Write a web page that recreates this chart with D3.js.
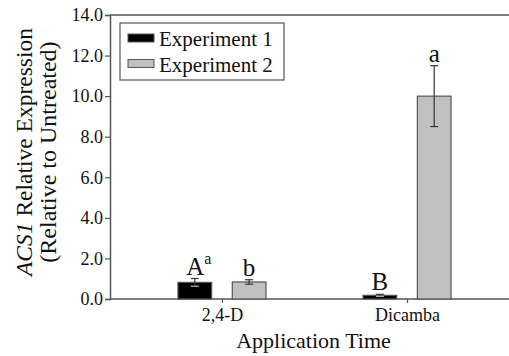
<!DOCTYPE html>
<html>
<head>
<meta charset="utf-8">
<script src="https://cdn.jsdelivr.net/npm/d3@7"></script>
</head>
<body style="margin:0; background:white">
<div id="container"></div>
<script>
let w = 509;
let h = 356;

// data
let categories = ["2,4-D", "Dicamba"];
let series = ["Experiment 1", "Experiment 2"];
let exp1Values = [0.82, 0.18];
let exp2Values = [0.84, 10.0];
let exp1Errors = [0.19, 0.05];
let exp2Errors = [0.11, 1.5];
let exp1Letters = ["A", "B"];
let exp2Letters = ["b", "a"];
let exp1Sup = ["a", ""];
let yTicks = [0, 2, 4, 6, 8, 10, 12, 14];

let colors = ["#000000", "#c0c0c0"];
let axisColor = "#555";
let serif = "'Liberation Serif'";

let viz = d3.select("#container")
  .append("svg")
    .attr("width", w)
    .attr("height", h)
    .style("display", "block")
    .style("background-color", "white")
;

let plotLeft = 110, plotRight = 519, plotTop = 15, plotBottom = 299;

let xScale = d3.scalePoint().domain(categories).range([plotLeft, plotRight]).padding(0.605);
let subScale = d3.scaleBand().domain(series).range([-44, 44]).paddingInner(0.38);
let yScale = d3.scaleLinear().domain([0, 14]).range([plotBottom, plotTop]);

// flatten into rows for drawing
let rows = [];
categories.forEach(function(c, i){
  rows.push({cat: c, s: series[0], v: exp1Values[i], e: exp1Errors[i], letter: exp1Letters[i], sup: exp1Sup[i], color: colors[0]});
  rows.push({cat: c, s: series[1], v: exp2Values[i], e: exp2Errors[i], letter: exp2Letters[i], sup: "", color: colors[1]});
});

// top frame line
viz.append("line")
  .attr("x1", plotLeft).attr("x2", w)
  .attr("y1", plotTop).attr("y2", plotTop)
  .attr("stroke", axisColor).attr("stroke-width", 1.5);

// y axis
let yAxis = viz.append("g")
  .attr("transform", "translate(" + plotLeft + ",0)")
  .call(d3.axisLeft(yScale).tickValues(yTicks).tickFormat(d3.format(".1f")).tickSize(5).tickPadding(2));
yAxis.attr("font-family", "Liberation Serif");
yAxis.select(".domain").attr("stroke", axisColor).attr("stroke-width", 1.5);
yAxis.selectAll(".tick line").attr("stroke", axisColor).attr("stroke-width", 1.2);
yAxis.selectAll(".tick text")
  .style("font-size", "18px");

// x axis
let xAxis = viz.append("g")
  .attr("transform", "translate(0," + plotBottom + ")")
  .call(d3.axisBottom(xScale).tickSize(4).tickPadding(5).tickSizeOuter(0));
xAxis.attr("font-family", "Liberation Serif");
xAxis.select(".domain").attr("d", "M" + plotLeft + ",0H" + w).attr("stroke", axisColor).attr("stroke-width", 1.5);
xAxis.selectAll(".tick line").attr("stroke", axisColor).attr("stroke-width", 1.2);
xAxis.selectAll(".tick text")
  .style("font-size", "18px");

// bars
let groups = viz.selectAll(".bargroup").data(rows).enter()
  .append("g")
    .classed("bargroup", true)
    .attr("transform", function(d){ return "translate(" + (xScale(d.cat) + subScale(d.s)) + ",0)"; })
;

groups.append("rect")
  .attr("x", 0)
  .attr("y", function(d){ return yScale(d.v); })
  .attr("width", subScale.bandwidth())
  .attr("height", function(d){ return yScale(0) - yScale(d.v); })
  .attr("fill", function(d){ return d.color; })
  .attr("stroke", axisColor)
  .attr("stroke-width", 1.2)
;

// error bars
let bw = subScale.bandwidth();
function errColor(d){ return d.color == "#000000" ? "#bbb" : "#333"; }
groups.append("line")
  .attr("x1", bw/2).attr("x2", bw/2)
  .attr("y1", function(d){ return yScale(d.v + d.e); })
  .attr("y2", function(d){ return yScale(d.v - d.e); })
  .attr("stroke", "#333").attr("stroke-width", 1.2);
groups.append("line")
  .attr("x1", bw/2 - 4).attr("x2", bw/2 + 4)
  .attr("y1", function(d){ return yScale(d.v + d.e); })
  .attr("y2", function(d){ return yScale(d.v + d.e); })
  .attr("stroke", "#333").attr("stroke-width", 1.2);
groups.append("line")
  .attr("x1", bw/2 - 4).attr("x2", bw/2 + 4)
  .attr("y1", function(d){ return yScale(d.v - d.e); })
  .attr("y2", function(d){ return yScale(d.v - d.e); })
  .attr("stroke", function(d){ return d.v > 1 ? "#333" : errColor(d); }).attr("stroke-width", 1.2);

// significance letters
let letters = groups.append("text")
  .attr("x", bw/2)
  .attr("y", function(d){ return yScale(d.v + d.e) - 4; })
  .attr("text-anchor", "middle")
  .style("font-size", "25px")
  .text(function(d){ return d.letter; })
;
letters.filter(function(d){ return d.sup != ""; })
  .append("tspan")
    .attr("dy", -11)
    .style("font-size", "16px")
    .text(function(d){ return d.sup; })
;
// keep "A" centred over the bar even with the superscript
letters.filter(function(d){ return d.sup != ""; }).attr("x", bw/2 + 4);

// legend
let legend = viz.append("g");
legend.append("rect")
  .attr("x", 120).attr("y", 23)
  .attr("width", 164).attr("height", 57)
  .attr("fill", "white").attr("stroke", axisColor).attr("stroke-width", 1.2);
let items = legend.selectAll(".item").data(series).enter()
  .append("g")
    .classed("item", true)
    .attr("transform", function(d, i){ return "translate(128," + (34 + i * 25.5) + ")"; })
;
items.append("rect")
  .attr("width", 26).attr("height", 8)
  .attr("fill", function(d, i){ return colors[i]; })
  .attr("stroke", axisColor).attr("stroke-width", 1);
items.append("text")
  .attr("x", 31).attr("y", 12)
  .style("font-size", "21px")
  .text(function(d){ return d; });

// axis titles
viz.append("text")
  .attr("x", (plotLeft + w) / 2 + 4)
  .attr("y", 348)
  .attr("text-anchor", "middle")
  .style("font-size", "22px")
  .text("Application Time");

let yTitle = viz.append("text")
  .attr("transform", "translate(32,152) rotate(-90)")
  .attr("text-anchor", "middle")
  .style("font-size", "23.5px");
yTitle.append("tspan").style("font-style", "italic").text("ACS1");
yTitle.append("tspan").text(" Relative Expression");
viz.append("text")
  .attr("transform", "translate(56,152) rotate(-90)")
  .attr("text-anchor", "middle")
  .style("font-size", "24px")
  .text("(Relative to Untreated)");

// serif everywhere
viz.selectAll("text")
  .style("font-family", serif)
  .attr("font-family", "Liberation Serif")
  .attr("fill", "#111");
</script>
</body>
</html>
